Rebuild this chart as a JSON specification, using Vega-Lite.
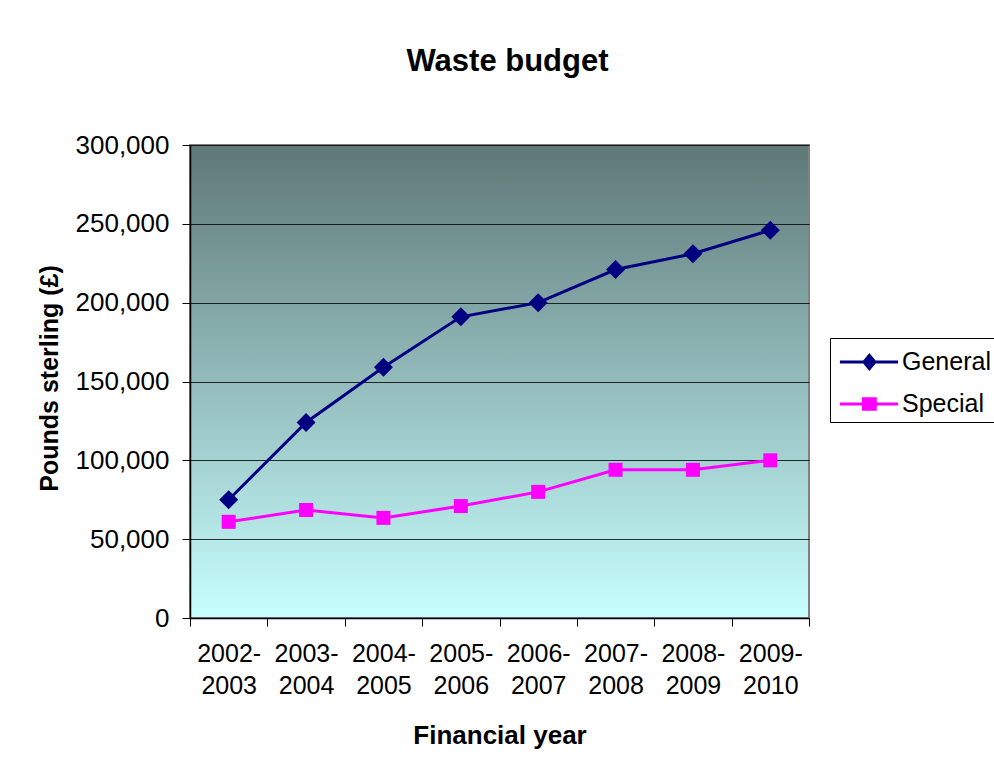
{
  "$schema": "https://vega.github.io/schema/vega-lite/v6.json",
  "autosize": "none",
  "width": 619,
  "height": 473,
  "padding": {"left": 190, "top": 145, "right": 185, "bottom": 153},
  "background": "#ffffff",
  "title": {
    "text": "Waste budget",
    "font": "Liberation Sans",
    "fontSize": 31,
    "fontWeight": "bold",
    "color": "#000000",
    "anchor": "middle",
    "baseline": "alphabetic",
    "offset": 30,
    "dx": 8
  },
  "data": {
    "values": [
      {"year": "2002-2003", "series": "General", "value": 75000},
      {"year": "2003-2004", "series": "General", "value": 124000},
      {"year": "2004-2005", "series": "General", "value": 159000},
      {"year": "2005-2006", "series": "General", "value": 191000},
      {"year": "2006-2007", "series": "General", "value": 200000},
      {"year": "2007-2008", "series": "General", "value": 221000},
      {"year": "2008-2009", "series": "General", "value": 231000},
      {"year": "2009-2010", "series": "General", "value": 246000},
      {"year": "2002-2003", "series": "Special", "value": 61000},
      {"year": "2003-2004", "series": "Special", "value": 68500},
      {"year": "2004-2005", "series": "Special", "value": 63500},
      {"year": "2005-2006", "series": "Special", "value": 71000},
      {"year": "2006-2007", "series": "Special", "value": 80000},
      {"year": "2007-2008", "series": "Special", "value": 94000},
      {"year": "2008-2009", "series": "Special", "value": 94000},
      {"year": "2009-2010", "series": "Special", "value": 100000}
    ]
  },
  "encoding": {
    "x": {
      "field": "year",
      "type": "ordinal",
      "scale": {"type": "band", "paddingInner": 0, "paddingOuter": 0},
      "axis": {
        "title": "Financial year",
        "labelAngle": 0,
        "labelExpr": "[slice(datum.label, 0, 5), slice(datum.label, 5)]",
        "labelLineHeight": 32,
        "labelPadding": 15,
        "labelFontSize": 25,
        "labelFont": "Liberation Sans",
        "labelColor": "#000000",
        "tickBand": "extent",
        "tickSize": 8,
        "tickColor": "#000000",
        "domainColor": "#000000",
        "domainWidth": 1.5,
        "grid": false,
        "titleFont": "Liberation Sans",
        "titleFontSize": 26,
        "titleFontWeight": "bold",
        "titleColor": "#000000",
        "titleY": 117,
        "titleBaseline": "middle"
      }
    },
    "y": {
      "field": "value",
      "type": "quantitative",
      "scale": {"domain": [0, 300000], "nice": false, "zero": true},
      "axis": {
        "title": "Pounds sterling (£)",
        "values": [0, 50000, 100000, 150000, 200000, 250000, 300000],
        "format": ",.0f",
        "labelFontSize": 26,
        "labelFont": "Liberation Sans",
        "labelColor": "#000000",
        "labelPadding": 13,
        "tickSize": 8,
        "tickColor": "#000000",
        "domainColor": "#000000",
        "domainWidth": 1.5,
        "grid": true,
        "gridColor": "#000000",
        "gridOpacity": 0.8,
        "gridWidth": 1,
        "titleFont": "Liberation Sans",
        "titleFontSize": 25,
        "titleFontWeight": "bold",
        "titleColor": "#000000",
        "titleAngle": -90,
        "titleX": -141,
        "titleY": 233,
        "titleAlign": "center",
        "titleBaseline": "middle"
      }
    },
    "color": {
      "field": "series",
      "type": "nominal",
      "scale": {"domain": ["General", "Special"], "range": ["#000080", "#ff00ff"]},
      "legend": {
        "title": null,
        "orient": "none",
        "legendX": 640,
        "legendY": 193,
        "strokeColor": "#000000",
        "fillColor": "#ffffff",
        "padding": 5,
        "cornerRadius": 0,
        "symbolSize": 1444,
        "symbolType": "M-0.74,-0.08L2.32,-0.08L2.32,0.08L-0.74,0.08Z",
        "rowPadding": 10,
        "labelOffset": 29,
        "labelFontSize": 25,
        "labelFont": "Liberation Sans",
        "labelColor": "#000000",
        "encode": {
          "symbols": {
            "update": {
              "shape": {"signal": "datum.value === 'General' ? 'M-0.74,-0.08L2.32,-0.08L2.32,0.08L-0.74,0.08Z M0.81,-0.47L1.2,0L0.81,0.47L0.42,0Z' : 'M-0.74,-0.08L2.32,-0.08L2.32,0.08L-0.74,0.08Z M0.42,-0.36L1.2,-0.36L1.2,0.36L0.42,0.36Z'"},
              "fill": {"signal": "datum.value === 'General' ? '#000080' : '#ff00ff'"},
              "fillOpacity": {"value": 1},
              "strokeWidth": {"value": 0},
              "opacity": {"value": 1},
              "size": {"value": 1444}
            }
          }
        }
      }
    }
  },
  "layer": [
    {
      "mark": {"type": "line", "strokeWidth": 3}
    },
    {
      "transform": [{"filter": "datum.series === 'General'"}],
      "mark": {"type": "point", "filled": true, "opacity": 1, "shape": "diamond", "size": 361}
    },
    {
      "transform": [{"filter": "datum.series === 'Special'"}],
      "mark": {"type": "point", "filled": true, "opacity": 1, "shape": "square", "size": 196}
    }
  ],
  "config": {
    "view": {
      "fill": {
        "gradient": "linear",
        "x1": 0, "y1": 0, "x2": 0, "y2": 1,
        "stops": [
          {"offset": 0, "color": "#5e7877"},
          {"offset": 1, "color": "#c8ffff"}
        ]
      },
      "stroke": "#808080",
      "strokeWidth": 2
    }
  }
}
